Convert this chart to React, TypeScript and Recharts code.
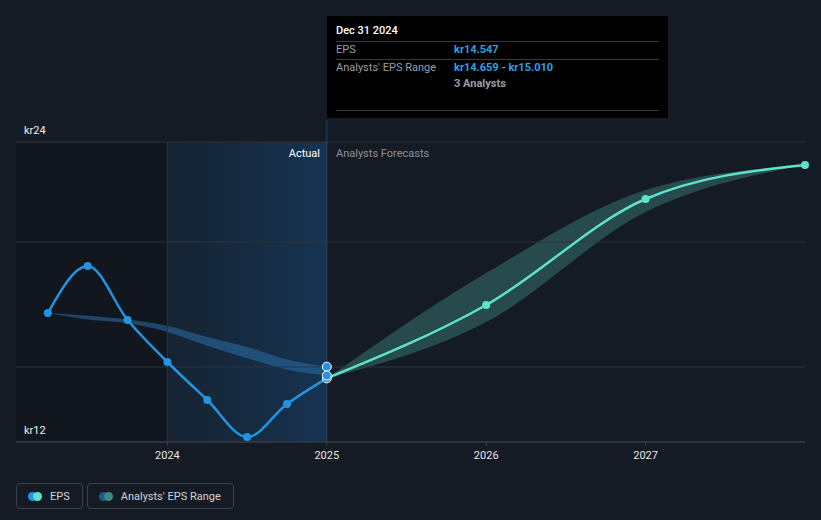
import React from "react";
import {
  ComposedChart,
  Line,
  Area,
  XAxis,
  YAxis,
  ReferenceArea,
  ReferenceLine,
  ReferenceDot,
} from "recharts";

// quarter / year ends as decimal years
const dates = [2023.25, 2023.5, 2023.75, 2024, 2024.25, 2024.5, 2024.75, 2025, 2026, 2027, 2028];
const epsActual = [17.16, 19.04, 16.88, 15.2, 13.68, 12.2, 13.52, 14.547, null, null, null];
const epsForecast = [null, null, null, null, null, null, null, 14.547, 17.48, 21.72, 23.08];
const pastRangeLow = [17.16, 16.9, 16.75, 16.4, 15.85, 15.35, 14.9, 14.659, null, null, null];
const pastRangeHigh = [17.16, 17.05, 16.9, 16.65, 16.2, 15.8, 15.3, 15.01, null, null, null];
const fcRangeLow = [null, null, null, null, null, null, null, 14.547, 16.8, 21.2, 23.08];
const fcRangeHigh = [null, null, null, null, null, null, null, 14.547, 18.76, 22.08, 23.08];

const xTicks = [2024, 2025, 2026, 2027];
const gridValues = [12, 15, 20, 24];
const yLabels = [12, 24];

const data = dates.map((d, i) => ({
  date: d,
  eps: epsActual[i],
  epsF: epsForecast[i],
  past: pastRangeLow[i] == null ? null : [pastRangeLow[i], pastRangeHigh[i]],
  fc: fcRangeLow[i] == null ? null : [fcRangeLow[i], fcRangeHigh[i]],
}));

const BG = "#151b25";
const BLUE = "#2394df";
const MINT = "#5fe3cc";
const FONT = "Roboto, 'Noto Sans', sans-serif";

function LegendItem({ a, b, label }: { a: string; b: string; label: string }) {
  return (
    <div
      style={{
        display: "flex",
        alignItems: "center",
        height: 26,
        padding: "0 12px 0 11px",
        border: "1px solid #3a3f4a",
        borderRadius: 4,
        boxSizing: "border-box",
        marginRight: 4,
      }}
    >
      <span style={{ position: "relative", width: 14, height: 9, marginRight: 8 }}>
        <span style={{ position: "absolute", left: 0, top: 0, width: 9, height: 9, borderRadius: 5, background: a }} />
        <span style={{ position: "absolute", left: 5, top: 0, width: 9, height: 9, borderRadius: 5, background: b }} />
      </span>
      <span style={{ color: "#d0d3d8", fontSize: 11 }}>{label}</span>
    </div>
  );
}

export default function App() {
  return (
    <div
      style={{
        position: "absolute",
        left: 0,
        top: 0,
        width: 821,
        height: 520,
        background: BG,
        fontFamily: FONT,
        overflow: "hidden",
      }}
    >
      <ComposedChart width={821} height={520} data={data} margin={{ top: 120, right: 16, bottom: 48, left: 16 }}>
        <defs>
          <linearGradient id="actualGrad" x1="0" y1="0" x2="1" y2="0">
            <stop offset="0%" stopColor="#16324d" stopOpacity={0.35} />
            <stop offset="100%" stopColor="#16385a" stopOpacity={0.85} />
          </linearGradient>
        </defs>
        <ReferenceArea x1={2023.05} x2={2024} y1={12} y2={24} fill="#0b0e14" fillOpacity={0.35} stroke="none" />
        <ReferenceArea x1={2024} x2={2025} y1={12} y2={24} fill="url(#actualGrad)" fillOpacity={1} stroke="none" />
        {gridValues.map((v) => (
          <ReferenceLine
            key={v}
            y={v}
            stroke="#2e333d"
            strokeWidth={1}
            label={
              yLabels.includes(v)
                ? {
                    content: (p: any) => (
                      <text
                        x={p.viewBox.x + 8}
                        y={p.viewBox.y - 12}
                        dominantBaseline="central"
                        fill="#f0f0f0"
                        fontSize={11}
                        fontFamily={FONT}
                      >
                        kr{v}
                      </text>
                    ),
                  }
                : undefined
            }
          />
        ))}
        <XAxis
          dataKey="date"
          type="number"
          domain={[2023.05, 2028]}
          ticks={xTicks}
          tickFormatter={(v) => String(v)}
          axisLine={{ stroke: "#3a3f4a" }}
          tickLine={{ stroke: "#3a3f4a" }}
          tickSize={4}
          tickMargin={5}
          height={30}
          tick={{ fill: "#e6e6e6", fontSize: 11, fontFamily: FONT }}
        />
        <YAxis type="number" domain={[12, 24.88]} hide />
        <ReferenceLine segment={[{ x: 2024, y: 12 }, { x: 2024, y: 24 }]} stroke="#1d3850" strokeWidth={1} />
        <ReferenceLine x={2025} stroke="#2a4560" strokeWidth={1} />
        <Area
          dataKey="past"
          type="monotone"
          stroke="none"
          fill="#2a6fa6"
          fillOpacity={0.55}
          isAnimationActive={false}
          activeDot={false}
        />
        <Area
          dataKey="fc"
          type="monotone"
          stroke="none"
          fill="#4aa596"
          fillOpacity={0.35}
          isAnimationActive={false}
          activeDot={false}
        />
        <Line
          dataKey="eps"
          type="monotone"
          stroke={BLUE}
          strokeWidth={2.5}
          dot={{ r: 4, fill: BLUE, stroke: "none" }}
          isAnimationActive={false}
          activeDot={false}
        />
        <Line
          dataKey="epsF"
          type="monotone"
          stroke={MINT}
          strokeWidth={2.5}
          dot={{ r: 4, fill: MINT, stroke: "none" }}
          isAnimationActive={false}
          activeDot={false}
        />
        <ReferenceDot x={2025} y={epsActual[7] as number} r={4.5} fill={BLUE} stroke="#ffffff" strokeWidth={1} />
        <ReferenceDot x={2025} y={pastRangeHigh[7] as number} r={4.5} fill={BLUE} stroke="#ffffff" strokeWidth={1} />
        <ReferenceDot x={2025} y={pastRangeLow[7] as number} r={4.5} fill={BLUE} stroke="#ffffff" strokeWidth={1} />
      </ComposedChart>

      <div style={{ position: "absolute", left: 288, top: 147, fontSize: 11, color: "#ffffff", width: 32, textAlign: "right" }}>
        Actual
      </div>
      <div style={{ position: "absolute", left: 336, top: 147, fontSize: 11, color: "#8b9099" }}>Analysts Forecasts</div>

      <div
        style={{
          position: "absolute",
          left: 327,
          top: 16,
          width: 341,
          height: 102,
          background: "#000000",
          boxSizing: "border-box",
          padding: "0 9px",
          fontSize: 11,
        }}
      >
        <div style={{ height: 25, lineHeight: "30px", color: "#ffffff", fontWeight: 500 }}>Dec 31 2024</div>
        <div style={{ borderTop: "1px solid #3a3a3a", height: 17, lineHeight: "16px", display: "flex" }}>
          <span style={{ width: 118, color: "#9a9ea6" }}>EPS</span>
          <span style={{ color: "#2e9fe8", fontWeight: 700 }}>kr14.547</span>
        </div>
        <div style={{ borderTop: "1px solid #3a3a3a", height: 17, lineHeight: "16px", display: "flex" }}>
          <span style={{ width: 118, color: "#9a9ea6" }}>Analysts' EPS Range</span>
          <span style={{ fontWeight: 700 }}>
            <span style={{ color: "#2e9fe8" }}>kr14.659</span>
            <span style={{ color: "#9a9ea6" }}> - </span>
            <span style={{ color: "#2e9fe8" }}>kr15.010</span>
          </span>
        </div>
        <div style={{ height: 33, lineHeight: "14px", display: "flex" }}>
          <span style={{ width: 118 }} />
          <span style={{ color: "#9a9ea6", fontWeight: 700 }}>3 Analysts</span>
        </div>
        <div style={{ borderTop: "1px solid #3a3a3a" }} />
      </div>

      <div style={{ position: "absolute", left: 16, top: 483, display: "flex" }}>
        <LegendItem a={BLUE} b={MINT} label="EPS" />
        <LegendItem a="#1f5b8a" b="#3d8a80" label="Analysts' EPS Range" />
      </div>
    </div>
  );
}
